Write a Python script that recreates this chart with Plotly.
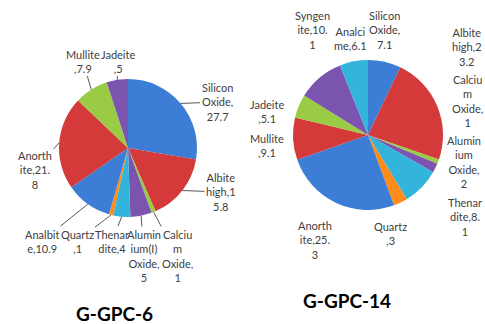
import math
import plotly.graph_objects as go

# ---- data ----
left_labels = ["Silicon Oxide", "Albite high", "Calcium Oxide", "Aluminium(I) Oxide",
               "Thenardite", "Quartz", "Analbite", "Anorthite", "Mullite", "Jadeite"]
left_values = [27.7, 15.8, 1, 5, 4, 1, 10.9, 21.8, 7.9, 5]
left_texts = ["Silicon<br>Oxide,<br>27.7", "Albite<br>high,1<br>5.8", "Calciu<br>m<br>Oxide,<br>1",
              "Alumin<br>ium(I)<br>Oxide,<br>5", "Thenar<br>dite,4", "Quartz<br>,1",
              "Analbit<br>e,10.9", "Anorth<br>ite,21.<br>8", "Mullite<br>,7.9", "Jadeite<br>,5"]
left_title = "G-GPC-6"

right_labels = ["Silicon Oxide", "Albite high", "Calcium Oxide", "Aluminium Oxide", "Thenardite",
                "Quartz", "Anorthite", "Mullite", "Jadeite", "Syngenite", "Analcime"]
right_values = [7.1, 23.2, 1, 2, 8.1, 3, 25.3, 9.1, 5.1, 10.1, 6.1]
right_texts = ["Silicon<br>Oxide,<br>7.1", "Albite<br>high,2<br>3.2", "Calciu<br>m<br>Oxide,<br>1",
               "Alumin<br>ium<br>Oxide,<br>2", "Thenar<br>dite,8.<br>1", "Quartz<br>,3",
               "Anorth<br>ite,25.<br>3", "Mullite<br>,9.1", "Jadeite<br>,5.1", "Syngen<br>ite,10.<br>1",
               "Analci<br>me,6.1"]
right_title = "G-GPC-14"

# ---- style / layout ----
W, H = 485, 324
palette = ["#3C7DD6", "#D43A3A", "#99CC44", "#7B54B0", "#33B4DA", "#FF8C1A"]
FONT = "Lato"
TXT = "#404040"
LSIZE = 11

# pie geometry (pixels)
L_C, L_R = (128, 148), 69
R_C, R_R = (368, 135), 75

# label text-centre positions (pixels) and whether a leader line is drawn
left_label_pos = [(217, 102), (221, 192), (177, 256), (144, 256), (112, 241), (77, 241),
                  (42, 241), (35, 170), (83, 61), (118, 61)]
left_leader = [True] * 10
right_label_pos = [(384, 30), (467, 47), (467, 101), (464, 162), (465, 217), (390, 233),
                   (315, 240), (267, 145), (267, 111), (312, 30), (350, 38)]
right_leader = [False] * 11


def domain(c, r):
    return dict(x=[(c[0] - r) / W, (c[0] + r) / W], y=[1 - (c[1] + r) / H, 1 - (c[1] - r) / H])


def colors(n):
    return [palette[i % len(palette)] for i in range(n)]


fig = go.Figure()
for labels, values, c, r in [(left_labels, left_values, L_C, L_R), (right_labels, right_values, R_C, R_R)]:
    fig.add_trace(go.Pie(labels=labels, values=values, sort=False, direction="clockwise", rotation=0,
                         textinfo="none", hoverinfo="label+value", showlegend=False,
                         marker=dict(colors=colors(len(values)), line=dict(width=0)),
                         domain=domain(c, r)))

# invisible pixel axes for annotations
fig.add_trace(go.Scatter(x=[0, W], y=[0, H], mode="markers", marker=dict(opacity=0),
                         hoverinfo="skip", showlegend=False))

annotations = []


def add_labels(values, texts, pos, leader, c, r):
    total = sum(values)
    cum = 0
    for v, t, p, lead in zip(values, texts, pos, leader):
        mid = (cum + v / 2) / total * 2 * math.pi
        cum += v
        ex = c[0] + r * math.sin(mid)
        ey = c[1] - r * math.cos(mid)
        if lead:
            annotations.append(dict(x=ex, y=ey, xref="x", yref="y", ax=p[0], ay=p[1],
                                    axref="x", ayref="y", text=t, showarrow=True, arrowhead=0,
                                    arrowwidth=1, arrowcolor="#595959", standoff=0,
                                    font=dict(family=FONT, size=LSIZE, color=TXT), align="center"))
        else:
            annotations.append(dict(x=p[0], y=p[1], xref="x", yref="y", text=t, showarrow=False,
                                    font=dict(family=FONT, size=LSIZE, color=TXT), align="center"))


add_labels(left_values, left_texts, left_label_pos, left_leader, L_C, L_R)
add_labels(right_values, right_texts, right_label_pos, right_leader, R_C, R_R)

annotations.append(dict(x=114, y=313, xref="x", yref="y", text="<b>%s</b>" % left_title, showarrow=False,
                        font=dict(family=FONT, size=19, color="#000000")))
annotations.append(dict(x=347, y=300, xref="x", yref="y", text="<b>%s</b>" % right_title, showarrow=False,
                        font=dict(family=FONT, size=19, color="#000000")))

fig.update_layout(
    width=W, height=H, margin=dict(l=0, r=0, t=0, b=0),
    paper_bgcolor="white", plot_bgcolor="rgba(0,0,0,0)",
    xaxis=dict(range=[0, W], visible=False, fixedrange=True),
    yaxis=dict(range=[H, 0], visible=False, fixedrange=True),
    annotations=annotations, showlegend=False,
)

fig.write_html("out.html", config={"displayModeBar": False},
               post_script="document.body.style.margin='0';document.body.style.overflow='hidden';")
